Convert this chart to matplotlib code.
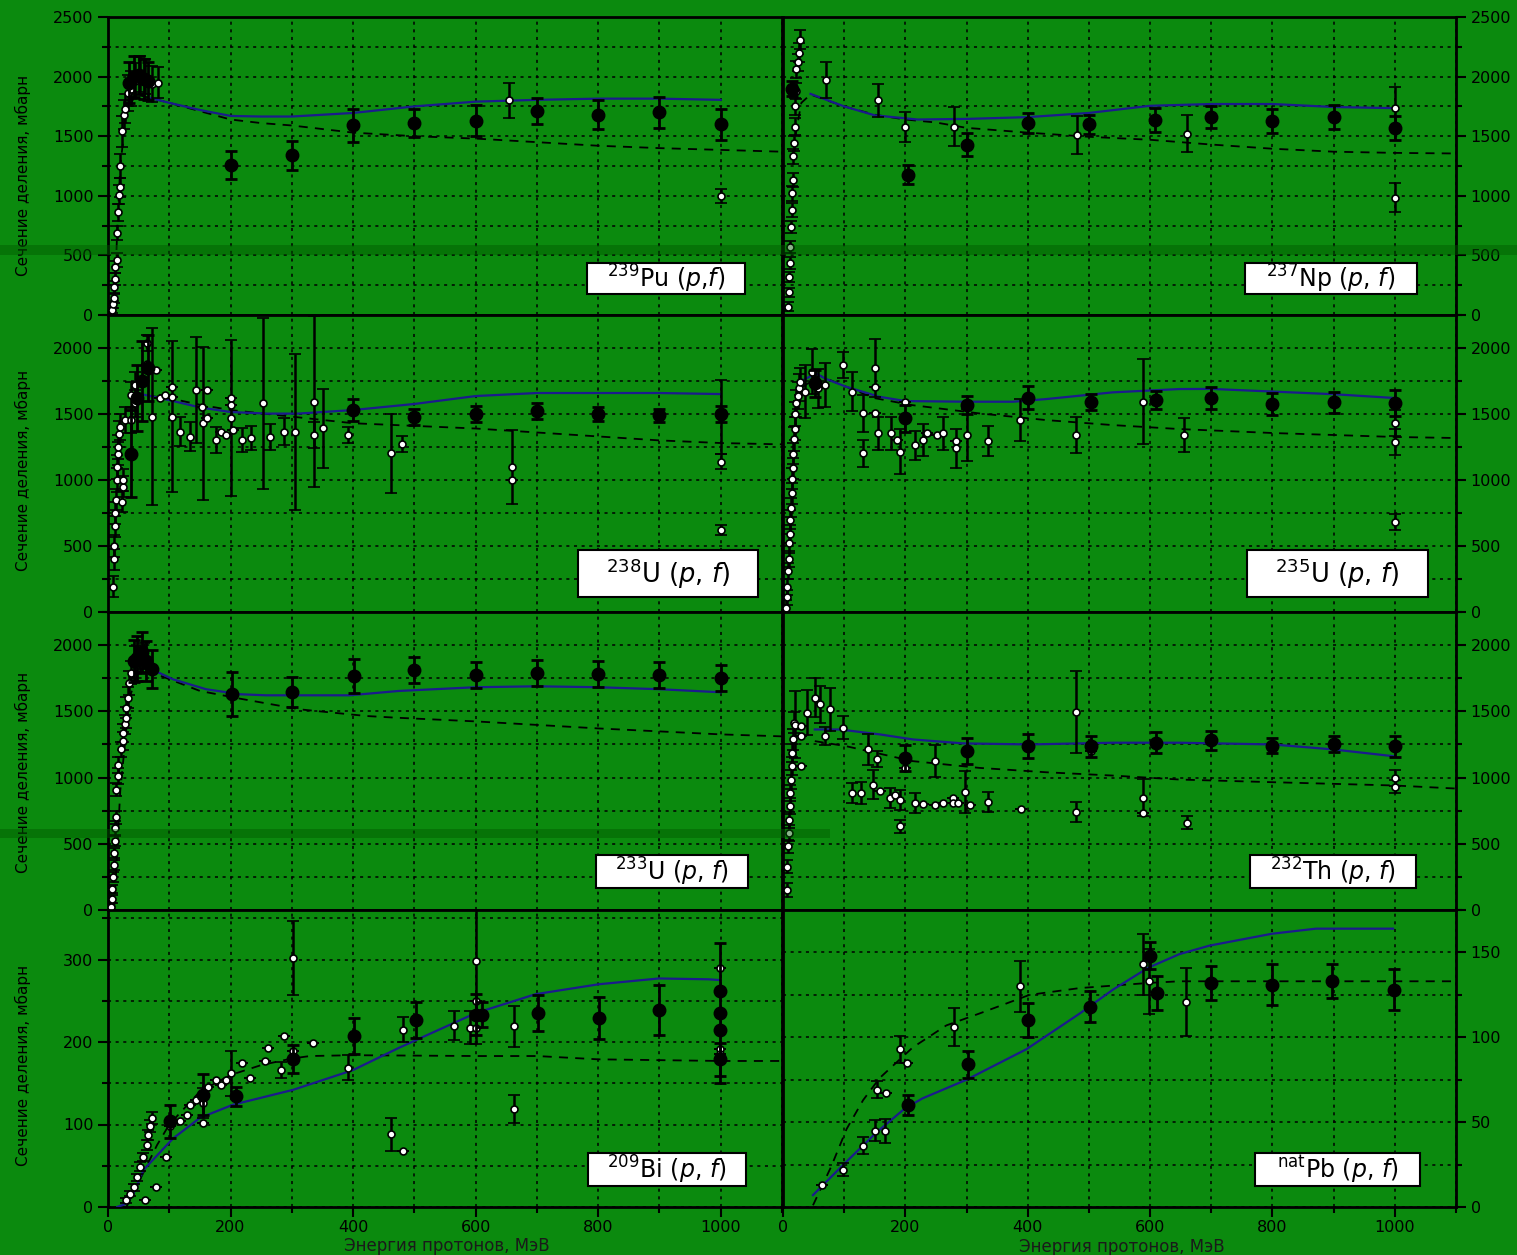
import matplotlib
matplotlib.use('Agg')
import matplotlib.pyplot as plt
from matplotlib.patches import Rectangle
from matplotlib.ticker import MultipleLocator

# ---------------- data (E in MeV, sigma in mb) ----------------
# 239Pu
pu_fill_E = [35, 42, 50, 58, 65, 200, 300, 400, 500, 600, 700, 800, 900, 1000]
pu_fill_S = [1950, 2000, 2010, 1980, 1960, 1260, 1340, 1590, 1610, 1630, 1710, 1680, 1700, 1600]
pu_fill_err = [170, 170, 160, 170, 160, 120, 120, 140, 120, 130, 110, 120, 130, 130]
pu_open_E = [7, 8, 9, 10, 11, 12, 14, 15, 16, 18, 19, 20, 23, 26, 28, 33, 38, 44, 52, 60, 72, 81, 655, 1000]
pu_open_S = [40, 90, 140, 235, 300, 400, 460, 690, 860, 1010, 1070, 1250, 1540, 1680, 1730, 1860, 1900, 1960, 2020, 2000, 1940, 1950, 1800, 1000]
pu_open_err = [20, 30, 40, 50, 50, 50, 60, 60, 70, 80, 80, 100, 130, 120, 120, 150, 150, 150, 150, 150, 150, 130, 150, 60]
pu_model_E = [70, 100, 150, 200, 250, 300, 400, 500, 600, 700, 800, 900, 1000]
pu_model_S = [1820, 1780, 1720, 1670, 1665, 1665, 1695, 1750, 1790, 1805, 1815, 1815, 1805]
pu_dash_E = [10, 15, 20, 30, 45, 70, 100, 150, 200, 250, 300, 400, 500, 600, 700, 800, 900, 1000, 1100]
pu_dash_S = [0, 700, 1250, 1700, 1850, 1820, 1780, 1710, 1640, 1610, 1590, 1530, 1500, 1480, 1450, 1420, 1400, 1385, 1370]

# 237Np
np_fill_E = [15, 205, 300, 400, 500, 608, 700, 800, 900, 1000]
np_fill_S = [1900, 1175, 1430, 1610, 1600, 1636, 1660, 1630, 1660, 1570]
np_fill_err = [60, 80, 100, 85, 80, 100, 90, 100, 100, 100]
np_open_E = [8, 9, 10, 11, 12, 13, 14, 15, 16, 17, 18, 19, 20, 21, 22, 24, 26, 28, 70, 155, 200, 280, 480, 660, 1000, 1000]
np_open_S = [70, 190, 320, 440, 570, 740, 880, 1020, 1130, 1330, 1440, 1580, 1750, 1880, 2060, 2120, 2200, 2310, 1970, 1800, 1580, 1580, 1510, 1520, 1740, 985]
np_open_err = [40, 40, 40, 50, 50, 50, 60, 60, 60, 60, 60, 70, 70, 70, 70, 70, 80, 80, 150, 135, 125, 165, 160, 155, 170, 120]
np_model_E = [45, 100, 150, 220, 300, 400, 500, 600, 700, 800, 900, 1000]
np_model_S = [1855, 1750, 1675, 1640, 1645, 1660, 1695, 1755, 1770, 1770, 1745, 1735]
np_dash_E = [20, 30, 45, 100, 150, 200, 250, 300, 400, 500, 600, 700, 800, 900, 1000, 1100]
np_dash_S = [1500, 1780, 1850, 1750, 1680, 1640, 1615, 1570, 1530, 1495, 1470, 1430, 1395, 1370, 1360, 1355]

# 238U
u8_fill_E = [38, 48, 56, 65, 400, 500, 600, 700, 800, 900, 1000]
u8_fill_S = [1200, 1620, 1750, 1850, 1530, 1480, 1500, 1520, 1500, 1490, 1500]
u8_fill_err = [330, 250, 300, 250, 80, 60, 60, 60, 50, 50, 60]
u8_open_E = [8, 9, 10, 11, 12, 13, 14, 15, 16, 17, 18, 19, 23, 24, 25, 27, 38, 38, 44, 44, 63, 63, 63, 71,
             79, 85, 93, 104, 104, 104, 117, 134, 144, 153, 155, 161, 161, 177, 185, 193, 201, 201, 201, 204,
             218, 234, 253, 264, 288, 305, 337, 337, 351, 391, 462, 480, 660, 660, 1000, 1000, 1000]
u8_open_S = [190, 400, 500, 650, 750, 850, 1000, 1100, 1200, 1250, 1350, 1400, 835, 950, 1000, 1455, 1644, 1455,
             1720, 1580, 2040, 1880, 1860, 1480, 1833, 1619, 1644, 1707, 1631, 1480, 1366, 1328, 1682, 1556, 1430,
             1467, 1682, 1303, 1366, 1341, 1619, 1569, 1467, 1379, 1303, 1316, 1581, 1328, 1366, 1366, 1341, 1594,
             1391, 1341, 1202, 1270, 1100, 1000, 1140, 620, 1480]
u8_open_err = [80, 80, 80, 80, 80, 80, 90, 90, 90, 90, 100, 100, 80, 80, 80, 100, 100, 100, 100, 100, 60, 0, 0, 670,
               0, 0, 0, 0, 0, 570, 110, 110, 400, 0, 580, 0, 0, 100, 0, 0, 0, 0, 590, 0, 90, 90, 650, 100, 100,
               590, 100, 650, 300, 60, 300, 60, 280, 0, 60, 40, 280]
u8_model_E = [40, 55, 100, 150, 200, 260, 310, 400, 500, 600, 700, 800, 900, 1000]
u8_model_S = [1640, 1650, 1605, 1550, 1515, 1503, 1503, 1530, 1576, 1636, 1659, 1659, 1659, 1651]
u8_dash_E = [40, 100, 150, 200, 300, 400, 500, 600, 700, 800, 900, 1000, 1100]
u8_dash_S = [1650, 1620, 1570, 1530, 1480, 1430, 1410, 1390, 1360, 1330, 1300, 1280, 1270]

# 235U
u5_fill_E = [52, 199, 300, 400, 503, 610, 700, 800, 900, 1000]
u5_fill_S = [1732, 1467, 1568, 1624, 1588, 1606, 1621, 1576, 1590, 1583]
u5_fill_err = [100, 100, 70, 85, 60, 70, 80, 80, 80, 100]
u5_open_E = [5, 6, 7, 8, 9, 10, 11, 12, 13, 14, 15, 16, 17, 18, 19, 20, 22, 24, 26, 28,
             36, 47, 57, 68, 98, 112, 130, 130, 150, 150, 150, 155, 177, 186, 191, 199, 215, 229, 235, 251,
             262, 283, 283, 300, 335, 387, 479, 588, 655, 1000, 1000, 1000]
u5_open_S = [30, 110, 190, 310, 400, 520, 590, 700, 790, 900, 1010, 1090, 1200, 1310, 1390, 1500, 1580, 1640, 1700, 1745,
             1669, 1821, 1694, 1720, 1871, 1669, 1505, 1202, 1846, 1707, 1505, 1354, 1354, 1303, 1215, 1593, 1265,
             1303, 1354, 1341, 1354, 1295, 1240, 1341, 1295, 1454, 1341, 1593, 1340, 1430, 1290, 680]
u5_open_err = [60, 60, 60, 60, 60, 70, 70, 70, 70, 80, 80, 80, 80, 90, 90, 90, 100, 100, 100, 100,
               200, 170, 150, 170, 100, 150, 140, 100, 220, 0, 0, 125, 125, 0, 170, 0, 110, 120, 0, 0,
               125, 0, 150, 200, 115, 160, 140, 320, 130, 100, 100, 60]
u5_model_E = [30, 54, 68, 103, 157, 200, 300, 376, 430, 539, 648, 700, 800, 900, 1000]
u5_model_S = [1750, 1808, 1770, 1707, 1631, 1598, 1593, 1593, 1613, 1664, 1689, 1690, 1670, 1650, 1621]
u5_dash_E = [30, 60, 103, 150, 210, 320, 430, 539, 648, 800, 1000, 1100]
u5_dash_S = [1700, 1790, 1707, 1620, 1568, 1505, 1454, 1416, 1386, 1356, 1326, 1318]

# 233U
u3_fill_E = [42, 48, 55, 62, 71, 203, 300, 402, 500, 600, 700, 800, 900, 1000]
u3_fill_S = [1880, 1900, 1950, 1880, 1818, 1629, 1646, 1768, 1811, 1773, 1788, 1780, 1773, 1750]
u3_fill_err = [160, 170, 150, 150, 145, 165, 115, 130, 100, 100, 100, 100, 100, 100]
u3_open_E = [5, 6, 7, 8, 9, 10, 11, 12, 13, 13, 16, 16, 22, 25, 25, 28, 30, 30, 33, 35, 38, 44, 52, 58]
u3_open_S = [20, 80, 160, 250, 340, 430, 520, 620, 700, 909, 1010, 1098, 1212, 1275, 1338, 1401, 1452, 1528,
             1604, 1717, 1793, 1894, 1881, 1919]
u3_open_err = [30, 30, 30, 40, 40, 40, 40, 50, 50, 50, 60, 60, 60, 70, 70, 70, 80, 80, 80, 90, 90, 100, 100, 100]
u3_model_E = [71, 106, 160, 215, 258, 394, 475, 600, 700, 800, 900, 1000]
u3_model_S = [1818, 1742, 1667, 1629, 1621, 1621, 1654, 1682, 1689, 1682, 1667, 1644]
u3_dash_E = [10, 20, 35, 55, 79, 150, 215, 313, 421, 470, 600, 800, 1000, 1100]
u3_dash_S = [0, 900, 1600, 1880, 1780, 1654, 1596, 1515, 1465, 1452, 1424, 1371, 1326, 1311]

# 232Th
th_fill_E = [199, 300, 400, 503, 610, 700, 800, 900, 1000]
th_fill_S = [1149, 1199, 1237, 1237, 1262, 1280, 1242, 1250, 1235]
th_fill_err = [100, 100, 90, 80, 80, 70, 60, 60, 80]
th_open_E = [6, 7, 8, 9, 10, 11, 12, 13, 14, 15, 16, 18, 20, 30, 30, 30, 39, 52, 60, 77, 69, 98, 112, 128,
             139, 147, 153, 158, 175, 183, 191, 191, 199, 215, 229, 248, 248, 262, 278, 278, 286, 297, 305,
             335, 389, 479, 479, 503, 588, 588, 660, 1000, 1000]
th_open_S = [151, 328, 480, 581, 682, 783, 884, 985, 1086, 1187, 1288, 1414, 1400, 1086, 1313, 1389, 1490, 1604,
             1553, 1515, 1313, 1376, 884, 884, 1212, 947, 1142, 897, 846, 871, 833, 631, 1073, 808, 803, 1124,
             796, 808, 846, 808, 808, 889, 796, 813, 763, 1495, 737, 1199, 846, 732, 660, 1000, 932]
th_open_err = [50, 50, 50, 60, 60, 60, 60, 70, 70, 70, 80, 80, 250, 0, 0, 0, 170, 150, 140, 160, 70, 85, 75, 80,
               115, 110, 60, 0, 75, 0, 75, 50, 0, 75, 0, 120, 0, 0, 0, 0, 0, 160, 0,
               75, 0, 310, 75, 0, 140, 0, 50, 60, 50]
th_model_E = [52, 93, 158, 212, 294, 403, 539, 648, 800, 900, 1000]
th_model_S = [1363, 1363, 1326, 1288, 1258, 1250, 1263, 1263, 1250, 1212, 1160]
th_dash_E = [52, 103, 212, 321, 430, 539, 648, 800, 1000, 1100]
th_dash_S = [1275, 1237, 1124, 1073, 1040, 1015, 985, 965, 940, 917]

# 209Bi
bi_fill_E = [101, 155, 209, 302, 402, 503, 600, 611, 701, 801, 899, 999, 999, 999, 999]
bi_fill_S = [104, 136, 134, 179, 207, 227, 233, 233, 235, 229, 239, 262, 235, 215, 179]
bi_fill_err = [20, 25, 12, 17, 22, 22, 25, 15, 22, 25, 30, 0, 85, 0, 20]
bi_open_E = [30, 36, 42, 47, 52, 57, 63, 66, 68, 71, 60, 79, 95, 101, 117, 129, 134, 144, 155, 155, 163, 177,
             185, 193, 201, 218, 231, 256, 261, 283, 288, 302, 302, 334, 391, 462, 481, 481, 565, 590, 600, 600,
             600, 663, 663, 999, 999, 999]
bi_open_S = [8, 16, 24, 36, 49, 61, 75, 87, 98, 108, 8, 24, 61, 98, 104, 112, 124, 130, 126, 102, 146, 154, 148,
             154, 162, 175, 156, 177, 193, 166, 207, 189, 302, 199, 169, 88, 68, 215, 220, 217, 298, 250, 217,
             219, 119, 290, 191, 186]
bi_open_err = [3, 3, 4, 4, 5, 5, 6, 6, 7, 7, 0, 0, 0, 0, 0, 0, 0, 0, 18, 0, 0, 0, 0, 0, 27, 0, 0, 0, 0, 10,
               0, 0, 45, 0, 15, 20, 0, 15, 17, 20, 100, 0, 0, 25, 17, 0, 0, 0]
bi_model_E = [15, 30, 41, 58, 106, 150, 204, 302, 400, 475, 600, 698, 801, 899, 980, 1000]
bi_model_S = [0, 4, 15, 45, 83, 108, 124, 142, 166, 193, 235, 258, 270, 277, 276, 275]
bi_dash_E = [30, 50, 80, 100, 150, 200, 250, 300, 330, 400, 600, 700, 800, 1000, 1100]
bi_dash_S = [0, 30, 75, 100, 140, 160, 172, 180, 183, 184, 183, 183, 179, 177, 177]

# natPb
pb_fill_E = [204, 302, 400, 501, 600, 612, 699, 799, 898, 998]
pb_fill_S = [60, 84, 110, 118, 148, 126, 132, 131, 133, 128]
pb_fill_err = [6, 8, 10, 9, 8, 10, 10, 12, 10, 12]
pb_open_E = [63, 98, 130, 150, 166, 153, 169, 191, 202, 279, 388, 588, 599, 659]
pb_open_S = [13, 22, 36, 45, 45, 69, 67, 93, 85, 106, 130, 143, 133, 121]
pb_open_err = [0, 4, 5, 6, 7, 5, 0, 8, 0, 11, 15, 18, 19, 20]
pb_model_E = [49, 96, 153, 199, 228, 300, 398, 485, 539, 597, 648, 697, 799, 871, 997]
pb_model_S = [7, 24, 44, 58, 64, 75, 93, 114, 128, 141, 149, 154, 161, 164, 164]
pb_dash_E = [49, 79, 104, 131, 158, 212, 267, 321, 403, 485, 597, 648, 800, 1000, 1100]
pb_dash_S = [1, 24, 46, 63, 76, 94, 107, 114, 125, 129, 132, 133, 133, 133, 133]

labels = [r'$^{239}$Pu ($p$,$f$)', r'$^{237}$Np ($p$, $f$)',
          r'$^{238}$U ($p$, $f$)', r'$^{235}$U ($p$, $f$)',
          r'$^{233}$U ($p$, $f$)', r'$^{232}$Th ($p$, $f$)',
          r'$^{209}$Bi ($p$, $f$)', r'$^{\mathrm{nat}}$Pb ($p$, $f$)']

ylab = 'Сечение деления, мбарн'
xlab = 'Энергия протонов, МэВ'

# ---------------- style ----------------
plt.rcParams['font.family'] = ['DejaVu Sans']

green = '#0b8a0e'
blue = '#1b1b8c'
W, H = 1517, 1255

fig = plt.figure(figsize=(W / 100, H / 100), dpi=100, facecolor=green)

cols = [(108, 782), (783, 1456)]
rows = [(17, 315), (315, 612), (612, 910), (910, 1207)]

panels = [
    (pu_fill_E, pu_fill_S, pu_fill_err, pu_open_E, pu_open_S, pu_open_err, pu_model_E, pu_model_S, pu_dash_E, pu_dash_S),
    (np_fill_E, np_fill_S, np_fill_err, np_open_E, np_open_S, np_open_err, np_model_E, np_model_S, np_dash_E, np_dash_S),
    (u8_fill_E, u8_fill_S, u8_fill_err, u8_open_E, u8_open_S, u8_open_err, u8_model_E, u8_model_S, u8_dash_E, u8_dash_S),
    (u5_fill_E, u5_fill_S, u5_fill_err, u5_open_E, u5_open_S, u5_open_err, u5_model_E, u5_model_S, u5_dash_E, u5_dash_S),
    (u3_fill_E, u3_fill_S, u3_fill_err, u3_open_E, u3_open_S, u3_open_err, u3_model_E, u3_model_S, u3_dash_E, u3_dash_S),
    (th_fill_E, th_fill_S, th_fill_err, th_open_E, th_open_S, th_open_err, th_model_E, th_model_S, th_dash_E, th_dash_S),
    (bi_fill_E, bi_fill_S, bi_fill_err, bi_open_E, bi_open_S, bi_open_err, bi_model_E, bi_model_S, bi_dash_E, bi_dash_S),
    (pb_fill_E, pb_fill_S, pb_fill_err, pb_open_E, pb_open_S, pb_open_err, pb_model_E, pb_model_S, pb_dash_E, pb_dash_S),
]

# ylim, label step, grid step
yspec = [(2500, 500, 250), (2500, 500, 250),
         (2250, 500, 250), (2250, 500, 250),
         (2250, 500, 250), (2250, 500, 250),
         (360, 100, 50), (175, 50, 25)]

# label boxes in figure pixels: left, top, right, bottom
boxes = [(587, 263, 745, 294), (1245, 263, 1417, 294),
         (578, 550, 758, 597), (1247, 550, 1428, 597),
         (596, 855, 748, 888), (1250, 855, 1416, 888),
         (588, 1153, 746, 1186), (1255, 1153, 1420, 1186)]
box_fs = [17, 17, 18.5, 18.5, 17, 17, 17, 17]

for i, p in enumerate(panels):
    r, c = divmod(i, 2)
    x0, x1 = cols[c]
    y0, y1 = rows[r]
    ax = fig.add_axes([x0 / W, 1 - y1 / H, (x1 - x0) / W, (y1 - y0) / H])
    ax.set_facecolor(green)
    fE, fS, fErr, oE, oS, oErr, mE, mS, dE, dS = p
    ymax, ystep, gstep = yspec[i]

    ax.plot(dE, dS, color='black', lw=1.3, dashes=(5, 4), zorder=3)
    ax.plot(mE, mS, color=blue, lw=1.6, zorder=4)
    ax.errorbar(oE, oS, yerr=oErr, fmt='o', ms=5, mfc='white', mec='black', mew=1.2,
                ecolor='black', elinewidth=1.8, capsize=4, capthick=1.8, zorder=5)
    ax.errorbar(fE, fS, yerr=fErr, fmt='o', ms=9, mfc='black', mec='black',
                ecolor='black', elinewidth=2.0, capsize=4, capthick=2.0, zorder=6)

    ax.set_xlim(0, 1100)
    ax.set_ylim(0, ymax)
    ax.xaxis.set_major_locator(MultipleLocator(200))
    ax.xaxis.set_minor_locator(MultipleLocator(100))
    ax.yaxis.set_major_locator(MultipleLocator(ystep))
    ax.yaxis.set_minor_locator(MultipleLocator(gstep))
    ax.grid(which='both', color='black', lw=1.1, linestyle=(0, (2, 3)), zorder=1)
    ax.set_axisbelow(True)

    for s in ax.spines.values():
        s.set_linewidth(2)
        s.set_color('black')

    ax.tick_params(which='both', direction='out', colors='black', labelsize=11.5,
                   top=False, width=1.5)
    ax.tick_params(which='major', length=7)
    ax.tick_params(which='minor', length=4)
    ax.tick_params(axis='x', pad=2)
    if c == 1:
        ax.yaxis.tick_right()
        ax.tick_params(axis='y', which='both', left=False, right=True)
    if r < 3:
        ax.tick_params(axis='x', which='both', labelbottom=False, length=0)

    # label box with fixed pixel size
    bl, bt, br, bb = boxes[i]
    fx0 = (bl - x0) / (x1 - x0)
    fx1 = (br - x0) / (x1 - x0)
    fy0 = (y1 - bb) / (y1 - y0)
    fy1 = (y1 - bt) / (y1 - y0)
    ax.add_patch(Rectangle((fx0, fy0), fx1 - fx0, fy1 - fy0, transform=ax.transAxes,
                           fc='white', ec='black', lw=1.5, zorder=9, clip_on=False))
    ax.text((fx0 + fx1) / 2, (fy0 + fy1) / 2, labels[i], transform=ax.transAxes,
            ha='center', va='center', fontsize=box_fs[i], color='black', zorder=10)

# axis titles
for yc in [175, 470, 772, 1065]:
    fig.text(23 / W, 1 - yc / H, ylab, rotation=90, ha='center', va='center',
             fontsize=11, color='black')
fig.text(447 / W, 1 - 1246 / H, xlab, ha='center', va='center', fontsize=12, color='#1a1a1a')
fig.text(1122 / W, 1 - 1247 / H, xlab, ha='center', va='center', fontsize=12, color='#1a1a1a')

# darker scan bands
fig.patches.append(Rectangle((0, 1 - 255 / H), 1, 10 / H, transform=fig.transFigure,
                             fc='#005a00', ec='none', alpha=0.45, zorder=20))
fig.patches.append(Rectangle((0, 1 - 838 / H), 830 / W, 9 / H, transform=fig.transFigure,
                             fc='#005a00', ec='none', alpha=0.45, zorder=20))

fig.savefig('out.png', dpi=100, facecolor=green)
